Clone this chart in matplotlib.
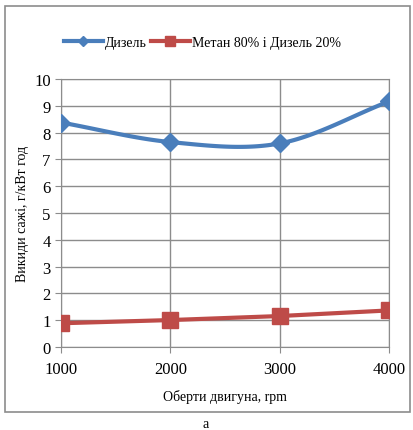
import numpy as np
import matplotlib.pyplot as plt
from matplotlib.patches import Rectangle

plt.rcParams['font.family'] = ['Liberation Serif', 'DejaVu Serif']

rpm = [1000, 2000, 3000, 4000]
diesel = [8.38, 7.65, 7.6, 9.17]
methane = [0.88, 1.0, 1.15, 1.36]

blue = '#4a7ebb'
red = '#be4b48'


def smooth(x, y, n=40):
    # Catmull-Rom style smoothing like Excel's "smoothed line"
    x = np.asarray(x, float)
    y = np.asarray(y, float)
    px = np.concatenate([[2 * x[0] - x[1]], x, [2 * x[-1] - x[-2]]])
    py = np.concatenate([[2 * y[0] - y[1]], y, [2 * y[-1] - y[-2]]])
    xs, ys = [], []
    t = np.linspace(0, 1, n)
    for i in range(1, len(px) - 2):
        p0, p1, p2, p3 = [np.array([px[j], py[j]]) for j in range(i - 1, i + 3)]
        c1 = p1 + (p2 - p0) / 6
        c2 = p2 - (p3 - p1) / 6
        pts = ((1 - t) ** 3)[:, None] * p1 + (3 * (1 - t) ** 2 * t)[:, None] * c1 \
            + (3 * (1 - t) * t ** 2)[:, None] * c2 + (t ** 3)[:, None] * p2
        xs.extend(pts[:, 0])
        ys.extend(pts[:, 1])
    return xs, ys


fig = plt.figure(figsize=(4.13, 4.31), dpi=100)
ax = fig.add_axes([0.148, 0.193, 0.794, 0.621])

fig.patches.append(Rectangle((5 / 413, 1 - 413 / 431), 405 / 413, 406 / 431,
                             transform=fig.transFigure, fill=False,
                             edgecolor='#8c8c8c', linewidth=1.2))

sx, sy = smooth(rpm, diesel)
ax.plot(sx, sy, color=blue, linewidth=3, zorder=3)
ax.plot(rpm, diesel, linestyle='none', marker='D', markersize=9, color=blue, zorder=4)
ax.plot(rpm, methane, color=red, linewidth=3, marker='s', markersize=11, zorder=3)

ax.set_xlim(1000, 4000)
ax.set_ylim(0, 10)
ax.set_xticks(rpm)
ax.set_yticks(range(0, 11))
ax.grid(True, color='#8c8c8c', linewidth=1)
ax.set_axisbelow(True)
for s in ax.spines.values():
    s.set_color('#8c8c8c')
ax.tick_params(colors='#8c8c8c', labelcolor='black', labelsize=12, length=4)
ax.tick_params(axis='x', pad=6)
ax.set_xlabel('Оберти двигуна, rpm', fontsize=10, labelpad=9)
ax.set_ylabel('Викиди сажі, г/кВт год', fontsize=10, labelpad=4)

h1, = ax.plot([], [], color=blue, linewidth=3, marker='D', markersize=5)
h2, = ax.plot([], [], color=red, linewidth=3, marker='s', markersize=7)
fig.legend([h1, h2], ['Дизель', 'Метан 80% і Дизель 20%'], loc='center',
           bbox_to_anchor=(0.49, 0.9), ncol=2, frameon=False, fontsize=10,
           handlelength=2.8, columnspacing=0.3, handletextpad=0.15)

fig.text(0.497, 6 / 431, 'a', ha='center', va='center', fontsize=10)

fig.savefig('out.png', dpi=100)
